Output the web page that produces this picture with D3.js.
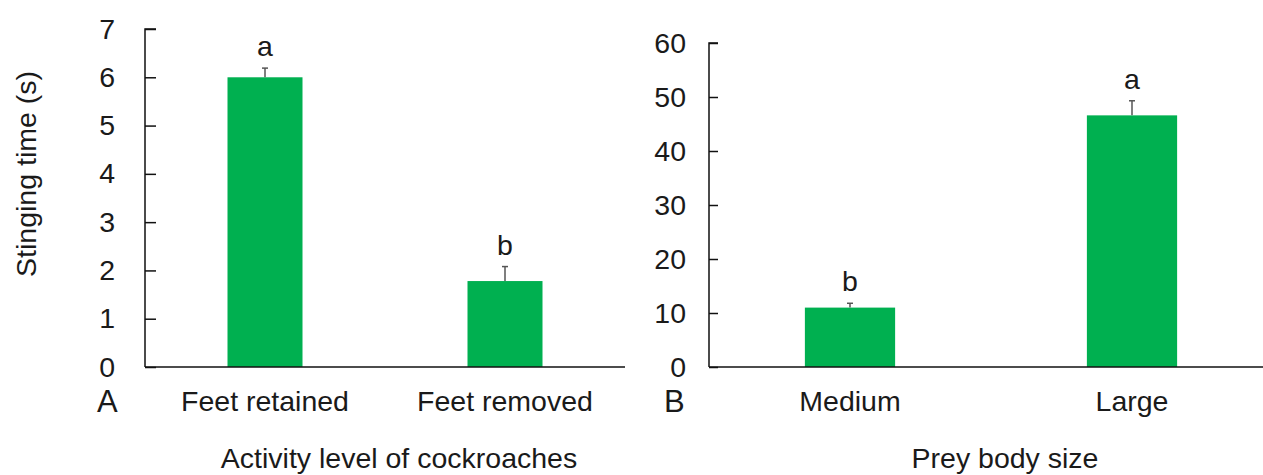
<!DOCTYPE html>
<html>
<head>
<meta charset="utf-8">
<script src="https://cdn.jsdelivr.net/npm/d3@7"></script>
<style>
  html, body { margin: 0; padding: 0; background: #fff; }
  svg text { font-family: "Liberation Sans", Arial, sans-serif; fill: #1a1a1a; }
</style>
</head>
<body>
<svg id="chart" width="1263" height="475"></svg>
<script>
// Panel A data
const catsA = ["Feet retained", "Feet removed"];
const valsA = [6.0, 1.78];
const errA = [0.19, 0.30];
const lettersA = ["a", "b"];
const ticksA = [0, 1, 2, 3, 4, 5, 6, 7];

// Panel B data
const catsB = ["Medium", "Large"];
const valsB = [11.0, 46.6];
const errB = [0.8, 2.7];
const lettersB = ["b", "a"];
const ticksB = [0, 10, 20, 30, 40, 50, 60];

const svg = d3.select("#chart");
const green = "#00b050";
const FS = 28.5;

function panel(opts) {
  const g = svg.append("g");
  const x = d3.scaleBand().domain(opts.cats).range([opts.x0, opts.x1]).paddingInner(opts.pad).paddingOuter(opts.pad / 2);
  const y = d3.scaleLinear().domain([0, opts.max]).range([367, opts.yTop]);

  // bars
  g.selectAll("rect.bar").data(opts.vals).enter().append("rect")
    .attr("x", (d, i) => x(opts.cats[i]))
    .attr("width", x.bandwidth())
    .attr("y", d => y(d))
    .attr("height", d => y(0) - y(d))
    .attr("fill", green);

  // error bars (upper only)
  opts.vals.forEach((v, i) => {
    const cx = x(opts.cats[i]) + x.bandwidth() / 2;
    const top = y(v + opts.err[i]);
    g.append("line").attr("x1", cx).attr("x2", cx).attr("y1", y(v)).attr("y2", top)
      .attr("stroke", "#555").attr("stroke-width", 1.5);
    g.append("line").attr("x1", cx - 3).attr("x2", cx + 3).attr("y1", top).attr("y2", top)
      .attr("stroke", "#555").attr("stroke-width", 1.5);
    g.append("text").attr("x", cx).attr("y", top - 12)
      .attr("text-anchor", "middle").attr("font-size", FS).text(opts.letters[i]);
  });

  // y axis
  const ax = d3.axisRight(y).tickValues(opts.ticks).tickSize(opts.tick).tickFormat(d3.format("d"));
  const ag = g.append("g").attr("transform", `translate(${opts.x0},0)`).call(ax);
  ag.select(".domain").attr("d", `M${opts.tick},${y(opts.max)}H0V${y(0)}`).attr("stroke", "#111").attr("stroke-width", 1.5);
  ag.selectAll(".tick line").attr("stroke", "#111").attr("stroke-width", 1.5);
  ag.selectAll(".tick text").attr("x", opts.labelX - opts.x0).attr("text-anchor", "end")
    .attr("font-size", FS).attr("font-family", "Liberation Sans, Arial, sans-serif").attr("fill", "#1a1a1a");

  // x axis line
  g.append("line").attr("x1", opts.x0).attr("x2", opts.xEnd).attr("y1", y(0)).attr("y2", y(0))
    .attr("stroke", "#111").attr("stroke-width", 1.5);

  // category labels
  opts.cats.forEach(c => {
    g.append("text").attr("x", x(c) + x.bandwidth() / 2).attr("y", 411)
      .attr("text-anchor", "middle").attr("font-size", FS).text(c);
  });

  // panel letter
  g.append("text").attr("x", opts.letterX).attr("y", 412).attr("font-size", 31).text(opts.panel);

  // axis title
  g.append("text").attr("x", opts.titleX).attr("y", 468).attr("text-anchor", "middle")
    .attr("font-size", FS).text(opts.title);
}

panel({
  cats: catsA, vals: valsA, err: errA, letters: lettersA, ticks: ticksA,
  max: 7, yTop: 29, x0: 145, x1: 625, xEnd: 625, pad: 0.6875, tick: 11, labelX: 115,
  panel: "A", letterX: 97, title: "Activity level of cockroaches", titleX: 399
});

panel({
  cats: catsB, vals: valsB, err: errB, letters: lettersB, ticks: ticksB,
  max: 60, yTop: 43, x0: 709, x1: 1273, xEnd: 1263, pad: 0.68, tick: 9, labelX: 686,
  panel: "B", letterX: 664, title: "Prey body size", titleX: 1005
});

// y-axis title
svg.append("text").attr("transform", "translate(36,174) rotate(-90)")
  .attr("text-anchor", "middle").attr("font-size", FS).text("Stinging time (s)");
</script>
</body>
</html>
